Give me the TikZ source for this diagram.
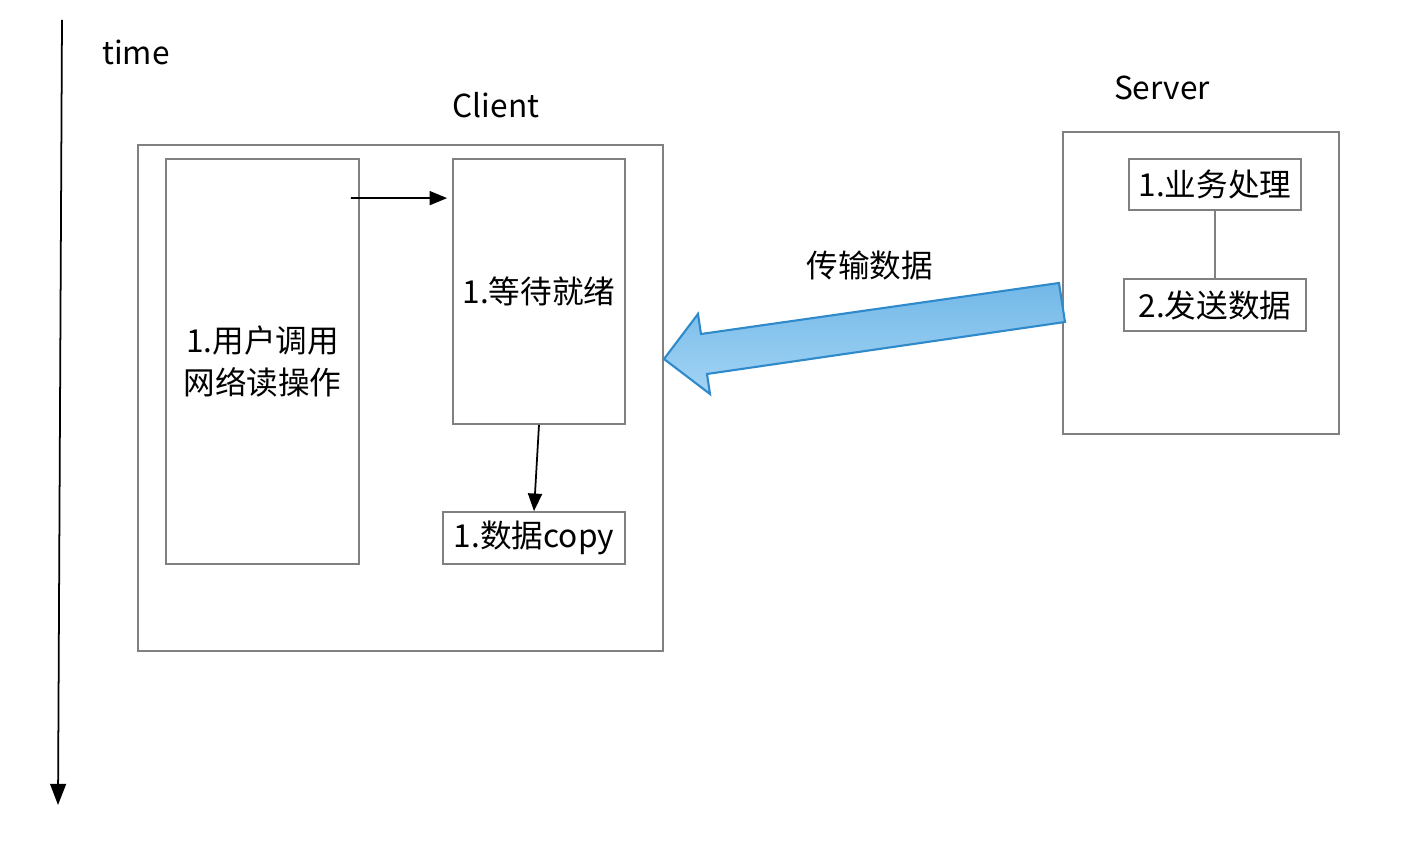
\documentclass[tikz,border=0pt]{standalone}
\usepackage{fontspec}
\setmainfont{Noto Sans CJK SC}
\usepackage{xcolor}
\usetikzlibrary{arrows.meta, calc}
\definecolor{boxgray}{HTML}{808080}
\definecolor{pipeblue}{HTML}{2F8ACB}
\definecolor{pipetop}{HTML}{72B8E8}
\definecolor{pipebot}{HTML}{A3D4F4}

\begin{document}
\begin{tikzpicture}[>={Triangle[length=5pt,width=4pt]}, font=\fontsize{9}{12.2}\selectfont,
  frame/.style={draw=boxgray, line width=0.5pt, inner sep=0pt},
  stepbox/.style={frame, align=center},
  flow/.style={->, line width=0.5pt}]
  \useasboundingbox (0,0) rectangle (14.1,-8.46);

  % Time axis
  \coordinate (t0) at (0.62,-0.20);
  \coordinate (t1) at (0.58,-8.05);
  \draw[->, line width=0.5pt, >={Triangle[length=6pt,width=4.5pt]}] (t0) -- (t1);
  \node (timelbl) at (1.36,-0.52) {time};

  % Client side
  \node (clientlbl) at (4.96,-1.05) {Client};
  \node[frame, minimum width=5.25cm, minimum height=5.06cm] (client) at (4.005,-3.98) {};
  \node[stepbox, minimum width=1.93cm, minimum height=4.05cm] (user) at (2.625,-3.615) {1.用户调用\\网络读操作};
  \node[stepbox, minimum width=1.72cm, minimum height=2.65cm] (wait) at (5.39,-2.915) {1.等待就绪};
  \node[stepbox, minimum width=1.82cm, minimum height=0.52cm] (copy) at (5.34,-5.38) {1.数据copy};

  \draw[flow] ($(user.north east)+(-0.09,-0.40)$) -- ($(wait.north west)+(-0.05,-0.40)$);
  \draw[flow] (wait.south) -- (copy.north);

  % Server side
  \node (serverlbl) at (11.62,-0.88) {Server};
  \node[frame, minimum width=2.76cm, minimum height=3.02cm] (server) at (12.01,-2.83) {};
  \node[stepbox, minimum width=1.72cm, minimum height=0.51cm] (biz) at (12.15,-1.845) {1.业务处理};
  \node[stepbox, minimum width=1.82cm, minimum height=0.52cm] (send) at (12.15,-3.05) {2.发送数据};
  \draw[boxgray, line width=0.5pt] (biz.south) -- (send.north);

  % Transfer arrow
  \node (translbl) at (8.70,-2.65) {传输数据};
  \shade[top color=pipetop, bottom color=pipebot, draw=pipeblue, line width=0.6pt]
    (10.59,-2.83) -- (10.65,-3.22) -- (7.07,-3.74) -- (7.10,-3.94)
    -- (6.64,-3.59) -- (6.98,-3.14) -- (7.01,-3.34) -- cycle;
\end{tikzpicture}
\end{document}
